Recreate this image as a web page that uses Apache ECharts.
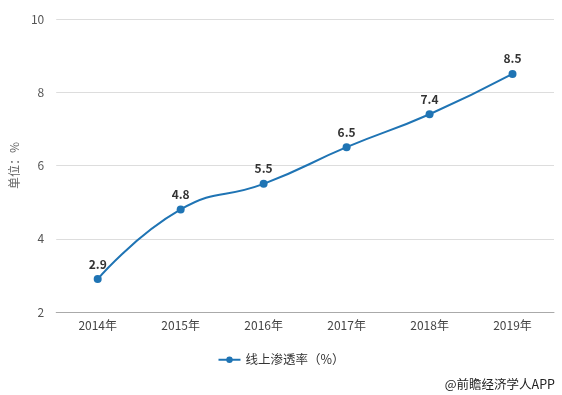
<!DOCTYPE html>
<html><head><meta charset="utf-8">
<script src="https://cdn.jsdelivr.net/npm/echarts@6/dist/echarts.min.js"></script>
<style>html,body{margin:0;padding:0;background:#fff}#c{width:562px;height:395px}</style>
</head><body><div id="c"></div>
<script>
var categories = ['2014年','2015年','2016年','2017年','2018年','2019年'];
var values = [2.9, 4.8, 5.5, 6.5, 7.4, 8.5];
var yTicks = [2, 4, 6, 8, 10];
var seriesName = '线上渗透率（%）';
var chart = echarts.init(document.getElementById('c'));
chart.setOption({
  animation: false,
  textStyle: {fontFamily: '"Noto Sans CJK SC",sans-serif'},
  grid: {left: 56, right: 8, top: 19, bottom: 83},
  legend: {
    data: [seriesName], bottom: 24, left: 'center',
    itemWidth: 22, itemHeight: 8,
    textStyle: {color: '#333', fontSize: 12.5}
  },
  graphic: [{
    type: 'text', right: 7, bottom: 4,
    style: {text: '@前瞻经济学人APP', fill: '#222', font: '12.5px "Noto Sans CJK SC", sans-serif'}
  }],
  xAxis: {
    type: 'category', data: categories, boundaryGap: true,
    axisLine: {lineStyle: {color: '#aaa'}},
    axisTick: {alignWithLabel: true, length: 4, lineStyle: {color: '#aaa'}},
    axisLabel: {color: '#444', fontSize: 12, margin: 7}
  },
  yAxis: {
    type: 'value', min: yTicks[0], max: yTicks[yTicks.length - 1], interval: 2,
    name: '单位：%', nameLocation: 'middle', nameGap: 32,
    nameTextStyle: {color: '#666', fontSize: 12},
    axisLine: {show: false}, axisTick: {show: false},
    axisLabel: {color: '#555', fontSize: 12, margin: 12},
    splitLine: {lineStyle: {color: '#ddd'}}
  },
  series: [{
    name: seriesName, type: 'line', smooth: true, data: values,
    symbol: 'circle', symbolSize: 8,
    itemStyle: {color: '#1f74b4'},
    lineStyle: {color: '#1f74b4', width: 2},
    label: {show: true, position: 'top', color: '#333', fontWeight: 'bold', fontSize: 12, distance: 5}
  }]
});
</script></body></html>
